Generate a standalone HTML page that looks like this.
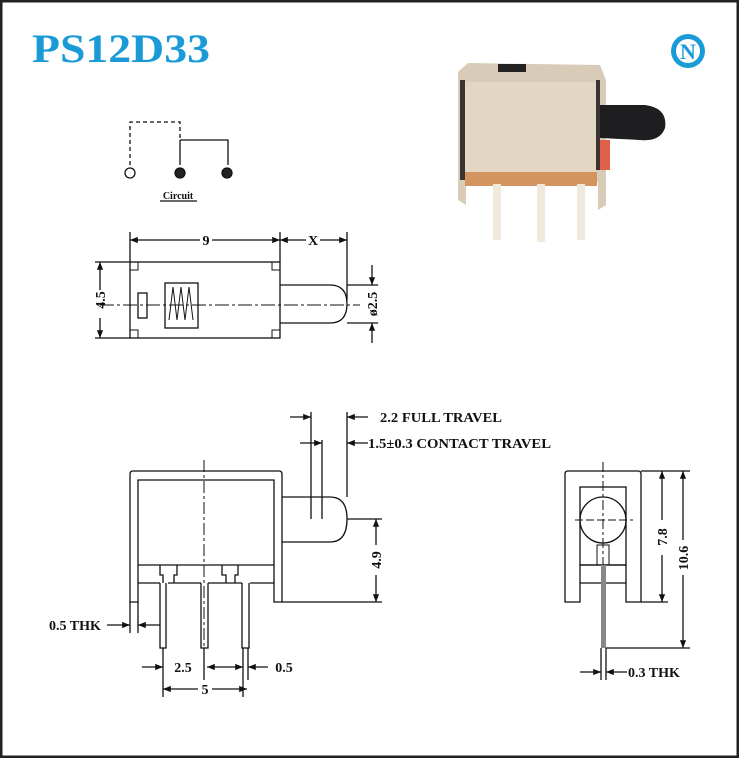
<!DOCTYPE html>
<html><head><meta charset="utf-8"><style>
html,body{margin:0;padding:0;background:#fff}
svg{display:block}
text{font-family:"Liberation Serif",serif;font-weight:bold;fill:#111}
</style></head><body>
<svg width="739" height="758" viewBox="0 0 739 758" xmlns="http://www.w3.org/2000/svg">
<defs>
<marker id="a" viewBox="0 0 10 10" refX="10" refY="5" markerWidth="8" markerHeight="6" orient="auto-start-reverse"><path d="M0,1 L10,5 L0,9 z" fill="#111"/></marker>
</defs>
<rect x="1" y="1" width="737" height="756" fill="#fff" stroke="#222" stroke-width="3"/>
<text x="32" y="62" font-size="40" textLength="178" lengthAdjust="spacingAndGlyphs" style="fill:#1a9ad6">PS12D33</text>
<circle cx="688" cy="51" r="17" fill="#1a9ad6"/>
<circle cx="688" cy="51" r="12" fill="#fff"/>
<text x="688" y="59" font-size="22" text-anchor="middle" style="fill:#1a9ad6">N</text>

<!-- photo -->
<g>
<path d="M458,72 L468,63 L600,65 L606,80 L606,205 L598,210 L598,182 L466,182 L466,205 L458,200 Z" fill="#d8ccb8"/>
<rect x="463" y="82" width="134" height="98" fill="#e3d7c3"/>
<rect x="460" y="80" width="5" height="100" fill="#3a3530"/>
<rect x="596" y="80" width="4" height="90" fill="#3a3530"/>
<rect x="498" y="64" width="28" height="8" fill="#222"/>
<path d="M600,105 L645,105 Q668,108 665,128 Q660,142 640,140 L600,138 Z" fill="#1e1e20"/>
<rect x="600" y="140" width="10" height="30" fill="#e0604a"/>
<rect x="465" y="172" width="132" height="14" fill="#d49460"/>
<rect x="493" y="184" width="8" height="56" fill="#efe8dc"/>
<rect x="537" y="184" width="8" height="58" fill="#efe8dc"/>
<rect x="577" y="184" width="8" height="56" fill="#efe8dc"/>
</g>

<g stroke="#111" stroke-width="1.3" fill="none">
<!-- circuit -->
<path d="M130,165 V122 H180 V140" stroke-dasharray="4,3"/>
<path d="M180,140 H228 V165 M180,140 V165"/>
<circle cx="130" cy="173" r="5"/>
<circle cx="180" cy="173" r="5" fill="#222"/>
<circle cx="227" cy="173" r="5" fill="#222"/>
<line x1="160" y1="201" x2="197" y2="201"/>

<!-- top view -->
<rect x="130" y="262" width="150" height="76"/>
<path d="M280,285 H330 Q347,285 347,304 Q347,323 330,323 H280"/>
<path d="M100,305 H360" stroke-dasharray="14,3,3,3" stroke-width="1"/>
<rect x="165" y="283" width="33" height="45"/>
<path d="M169,320 L173,287 L177,320 L181,287 L185,320 L189,287 L193,320" stroke-width="1"/>
<rect x="138" y="293" width="9" height="25"/>
<path d="M130,270 H138 V262 M272,262 V270 H280 M130,330 H138 V338 M272,338 V330 H280" stroke-width="1"/>
<path d="M130,232 V262 M280,232 V262 M347,232 V300"/>
<line x1="130" y1="240" x2="200" y2="240" marker-start="url(#a)"/>
<line x1="212" y1="240" x2="280" y2="240" marker-end="url(#a)"/>
<line x1="280" y1="240" x2="306" y2="240" marker-start="url(#a)"/>
<line x1="320" y1="240" x2="347" y2="240" marker-end="url(#a)"/>
<path d="M95,262 H130 M95,338 H130"/>
<line x1="100" y1="262" x2="100" y2="290" marker-start="url(#a)"/>
<line x1="100" y1="318" x2="100" y2="338" marker-end="url(#a)"/>
<path d="M347,285 H378 M347,323 H378"/>
<line x1="372" y1="265" x2="372" y2="285" marker-end="url(#a)"/>
<line x1="372" y1="343" x2="372" y2="323" marker-end="url(#a)"/>

<!-- front view -->
<path d="M130,602 V474 Q130,471 133,471 H279 Q282,471 282,474 V602 H274 V480 H138 V602 Z"/>
<path d="M138,565 H274 M138,583 H160 M168,583 H201 M208,583 H242 M250,583 H274"/>
<path d="M160,565 V575 H163 V583 M177,565 V575 H174 V583 M222,565 V575 H226 V583 M238,565 V575 H235 V583"/>
<path d="M160,583 V648 H166 V583 M201,583 V648 H208 V583 M242,583 V648 H249 V583"/>
<path d="M282,497 H330 Q347,497 347,519 Q347,542 330,542 H282"/>
<line x1="204" y1="460" x2="204" y2="650" stroke-dasharray="12,3,3,3" stroke-width="1"/>
<path d="M347,519 H382 M282,602 H382"/>
<line x1="376" y1="545" x2="376" y2="519" marker-end="url(#a)"/>
<line x1="376" y1="575" x2="376" y2="602" marker-end="url(#a)"/>
<path d="M311,412 V519 M322,440 V519 M347,412 V497"/>
<line x1="290" y1="417" x2="311" y2="417" marker-end="url(#a)"/>
<line x1="368" y1="417" x2="347" y2="417" marker-end="url(#a)"/>
<line x1="300" y1="443" x2="322" y2="443" marker-end="url(#a)"/>
<line x1="368" y1="443" x2="347" y2="443" marker-end="url(#a)"/>
<path d="M130,602 V633 M138,602 V633"/>
<line x1="107" y1="625" x2="130" y2="625" marker-end="url(#a)"/>
<line x1="160" y1="625" x2="138" y2="625" marker-end="url(#a)"/>
<path d="M163,648 V697 M204,648 V680 M243,648 V697 M248,648 V680"/>
<line x1="142" y1="667" x2="163" y2="667" marker-end="url(#a)"/>
<line x1="207" y1="667" x2="243" y2="667" marker-start="url(#a)" marker-end="url(#a)"/>
<line x1="268" y1="667" x2="248" y2="667" marker-end="url(#a)"/>
<line x1="163" y1="689" x2="198" y2="689" marker-start="url(#a)"/>
<line x1="212" y1="689" x2="247" y2="689" marker-end="url(#a)"/>

<!-- side view -->
<path d="M565,602 V474 Q565,471 568,471 H638 Q641,471 641,474 V602 H626 V565 H580 V602 Z"/>
<rect x="580" y="487" width="46" height="78"/>
<path d="M580,583 H626"/>
<circle cx="603" cy="520" r="23"/>
<path d="M575,520 H633" stroke-dasharray="8,3" stroke-width="1"/>
<line x1="603" y1="462" x2="603" y2="565" stroke-dasharray="10,3,3,3" stroke-width="1"/>
<path d="M597,545 H609 V565 H597 Z" stroke-width="1"/>
<rect x="601" y="565" width="5" height="83" fill="#888" stroke="none"/>
<path d="M641,471 H690 M641,602 H668 M606,648 H690"/>
<line x1="662" y1="520" x2="662" y2="471" marker-end="url(#a)"/>
<line x1="662" y1="555" x2="662" y2="602" marker-end="url(#a)"/>
<line x1="683" y1="540" x2="683" y2="471" marker-end="url(#a)"/>
<line x1="683" y1="575" x2="683" y2="648" marker-end="url(#a)"/>
<path d="M601,648 V680 M606,648 V680"/>
<line x1="580" y1="672" x2="601" y2="672" marker-end="url(#a)"/>
<line x1="627" y1="672" x2="606" y2="672" marker-end="url(#a)"/>
</g>

<text x="178" y="199" font-size="10" text-anchor="middle">Circuit</text>
<text x="206" y="245" font-size="14" text-anchor="middle">9</text>
<text x="313" y="245" font-size="14" text-anchor="middle">X</text>
<text transform="translate(105,300) rotate(-90)" font-size="14" text-anchor="middle">4.5</text>
<text transform="translate(377,304) rotate(-90)" font-size="14" text-anchor="middle">ø2.5</text>
<text x="380" y="422" font-size="14" textLength="122" lengthAdjust="spacingAndGlyphs">2.2 FULL TRAVEL</text>
<text x="368" y="448" font-size="14" textLength="183" lengthAdjust="spacingAndGlyphs">1.5±0.3 CONTACT TRAVEL</text>
<text transform="translate(381,560) rotate(-90)" font-size="14" text-anchor="middle">4.9</text>
<text x="49" y="630" font-size="14">0.5 THK</text>
<text x="183" y="672" font-size="14" text-anchor="middle">2.5</text>
<text x="284" y="672" font-size="14" text-anchor="middle">0.5</text>
<text x="205" y="694" font-size="14" text-anchor="middle">5</text>
<text transform="translate(667,537) rotate(-90)" font-size="14" text-anchor="middle">7.8</text>
<text transform="translate(688,558) rotate(-90)" font-size="14" text-anchor="middle">10.6</text>
<text x="628" y="677" font-size="14">0.3 THK</text>
</svg>
</body></html>
